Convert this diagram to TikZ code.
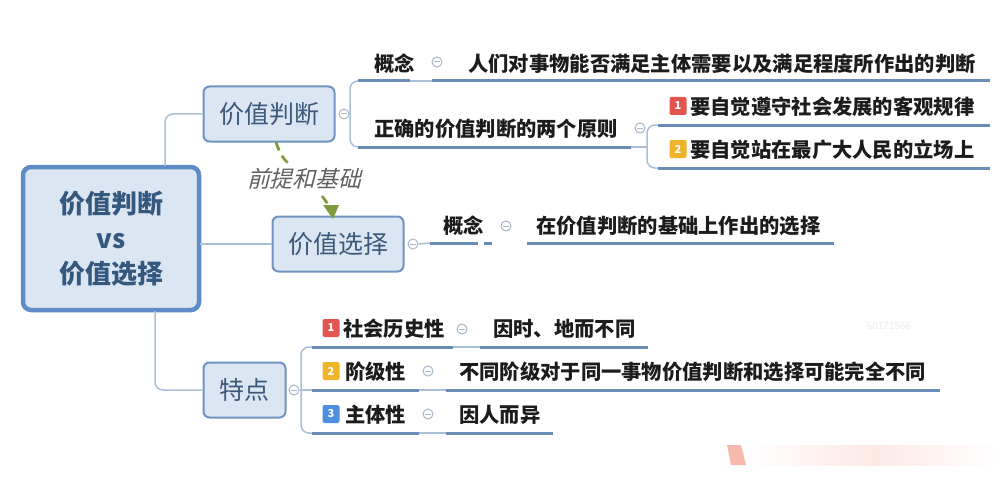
\documentclass[tikz,border=0pt]{standalone}
\usepackage{fontspec}
\setmainfont{Noto Sans CJK SC}
\newfontfamily\cjkit[FakeSlant=0.25]{Noto Sans CJK SC}
\usetikzlibrary{arrows.meta}
\definecolor{fillblue}{HTML}{DCE6F3}
\definecolor{edgeblue}{HTML}{5F8CC6}
\definecolor{subedge}{HTML}{6F94C0}
\definecolor{thinline}{HTML}{A9BFD8}
\definecolor{underl}{HTML}{6A8DB8}
\definecolor{rootink}{HTML}{35587F}
\definecolor{subink}{HTML}{3C587A}
\definecolor{leafink}{HTML}{1C1C1C}
\definecolor{olive}{HTML}{7E9B3E}
\definecolor{colgray}{HTML}{A8B8C8}
\definecolor{bred}{HTML}{E25550}
\definecolor{bamber}{HTML}{F0B429}
\definecolor{bblue}{HTML}{4F8FE0}
\definecolor{pinkish}{HTML}{F3A898}
\tikzset{
 x=1pt,y=-1pt,
 root/.style={draw=edgeblue,line width=4.5pt,fill=fillblue,rounded corners=8pt,inner sep=0pt,
   text=rootink,font=\fontsize{26}{36}\selectfont\bfseries,align=center,minimum width=176pt,minimum height=143pt},
 sub/.style={draw=subedge,line width=2pt,fill=fillblue,rounded corners=6pt,inner sep=0pt,
   text=subink,font=\fontsize{25}{30}\selectfont,minimum height=55pt},
 leaf/.style={text=leafink,font=\fontsize{20.3}{24}\selectfont\bfseries,inner sep=0pt,anchor=west},
 under/.style={draw=underl,line width=3pt},
 thin/.style={draw=thinline,line width=1.3pt},
 conn/.style={draw=thinline,line width=1.5pt,rounded corners=8pt},
 col/.style={circle,draw=colgray,line width=1pt,minimum size=10pt,inner sep=0pt,fill=white},
 badge/.style={rounded corners=2pt,minimum width=17pt,minimum height=18pt,inner sep=0pt,text=white,
   font=\fontsize{11}{11}\selectfont\bfseries},
 rel/.style={draw=olive,line width=2.8pt,dash pattern=on 9pt off 6pt},
}
\newcommand{\colnode}[3]{\node[col] (#1) at (#2,#3) {}; \draw[colgray,line width=1pt] (#2-3,#3) -- (#2+3,#3);}
\begin{document}
\begin{tikzpicture}
\useasboundingbox (0,0) rectangle (1000,500);
\fill[white] (0,0) rectangle (1000,500);
% faint remnants
\shade[left color=white,right color=white,middle color=pinkish!25] (745,445) rectangle (1000,465);
\fill[pinkish!80] (727,445) -- (741,445) -- (746,465) -- (731,465) -- cycle;
\node[text=black!7,font=\fontsize{10}{10}\selectfont] (wm) at (889,326) {60171566};

% main nodes
\node[root] (r) at (111,238.5) {价值判断\\[-1pt]vs\\[-1pt]价值选择};
\node[sub,minimum width=131pt] (a) at (269,114) {价值判断};
\node[sub,minimum width=131pt] (b) at (338,244) {价值选择};
\node[sub,minimum width=82pt] (c) at (244.5,390) {特点};

% root connectors
\coordinate (rt) at (165,166);
\coordinate (rbm) at (155,311);
\draw[conn] (rt) |- (a.west);
\draw[conn] (200,244) -- (b.west);
\draw[conn] (rbm) |- (c.west);

% relation
\node[font=\fontsize{22.8}{26}\selectfont\cjkit,text=black!62,inner sep=2pt] (lab) at (304,179) {前提和基础};
\coordinate (s1) at (276,142);
\draw[rel] (s1) .. controls (279,152) and (284,160) .. (288,163);
\coordinate (s2) at (322,196);
\coordinate (s3) at (330,207);
\draw[rel] (s2) -- (s3);
\fill[olive] (323,205) -- (339,205) -- (333,219) -- cycle;

% -- branch A
\colnode{ca}{344}{114}
\draw[conn] (ca.east) -- (350,114);
\coordinate (a1L) at (358,81); \coordinate (a1R) at (410,81);
\coordinate (a2L) at (358,147); \coordinate (a2R) at (631,147);
\draw[conn] (a1L) -| (350,114) |- (a2L);
\draw[under] (a1L) -- (a1R);
\draw[under] (a2L) -- (a2R);
\node[leaf] (t1) at (374,64) {概念};
\colnode{c1}{437}{62}
\node[leaf] (t1a) at (468,64) {人们对事物能否满足主体需要以及满足程度所作出的判断};
\coordinate (a1aL) at (432,81); \coordinate (a1aR) at (990,81);
\draw[thin] (a1R) -- (a1aL);
\draw[under] (a1aL) -- (a1aR);
\node[leaf] (t2) at (374,129) {正确的价值判断的两个原则};
\colnode{c2}{640}{128}
\coordinate (p1L) at (658,125); \coordinate (p1R) at (990,125);
\coordinate (p2L) at (658,168); \coordinate (p2R) at (990,168);
\draw[conn] (p1L) -| (647,147) |- (p2L);
\draw[conn] (a2R) -- (647,147);
\draw[under] (p1L) -- (p1R);
\draw[under] (p2L) -- (p2R);
\node[badge,fill=bred] (bp1) at (678,106) {1};
\node[leaf] (tp1) at (690,107) {要自觉遵守社会发展的客观规律};
\node[badge,fill=bamber] (bp2) at (678,149) {2};
\node[leaf] (tp2) at (690,150) {要自觉站在最广大人民的立场上};

% -- branch B
\colnode{cb}{413}{244}
\coordinate (b1L) at (430,243); \coordinate (b1R) at (478,243);
\draw[conn] (cb.east) -- (b1L);
\draw[under] (b1L) -- (b1R);
\draw[under] (484,243) -- (492,243);
\coordinate (b1aL) at (527,243); \coordinate (b1aR) at (834,243);
\draw[under] (b1aL) -- (b1aR);
\node[leaf] (t3) at (443,226) {概念};
\colnode{c3}{506}{226}
\node[leaf] (t3a) at (536,226) {在价值判断的基础上作出的选择};

% -- branch C
\colnode{cc}{294}{390}
\coordinate (d1L) at (312,347); \coordinate (d1R) at (453,347);
\coordinate (d2L) at (312,390); \coordinate (d2R) at (419,390);
\coordinate (d3L) at (312,433); \coordinate (d3R) at (419,433);
\draw[conn] (d1L) -| (301,390) |- (d3L);
\draw[conn] (cc.east) -- (d2L);
\draw[under] (d1L) -- (d1R);
\draw[under] (d2L) -- (d2R);
\draw[under] (d3L) -- (d3R);
\node[badge,fill=bred] (bc1) at (331,328) {1};
\node[leaf] (tc1) at (343,329) {社会历史性};
\colnode{cc1}{462}{329}
\node[leaf] (tc1a) at (493,329) {因时、地而不同};
\coordinate (e1L) at (480,347); \coordinate (e1R) at (648,347);
\draw[thin] (d1R) -- (e1L);
\draw[under] (e1L) -- (e1R);
\node[badge,fill=bamber] (bc2) at (331,371) {2};
\node[leaf] (tc2) at (345,372) {阶级性};
\colnode{cc2}{428}{371}
\node[leaf] (tc2a) at (459,372) {不同阶级对于同一事物价值判断和选择可能完全不同};
\coordinate (e2L) at (446,390); \coordinate (e2R) at (940,390);
\draw[thin] (d2R) -- (e2L);
\draw[under] (e2L) -- (e2R);
\node[badge,fill=bblue] (bc3) at (331,414) {3};
\node[leaf] (tc3) at (345,415) {主体性};
\colnode{cc3}{428}{414}
\node[leaf] (tc3a) at (459,415) {因人而异};
\coordinate (e3L) at (446,433); \coordinate (e3R) at (553,433);
\draw[thin] (d3R) -- (e3L);
\draw[under] (e3L) -- (e3R);
\end{tikzpicture}
\end{document}
